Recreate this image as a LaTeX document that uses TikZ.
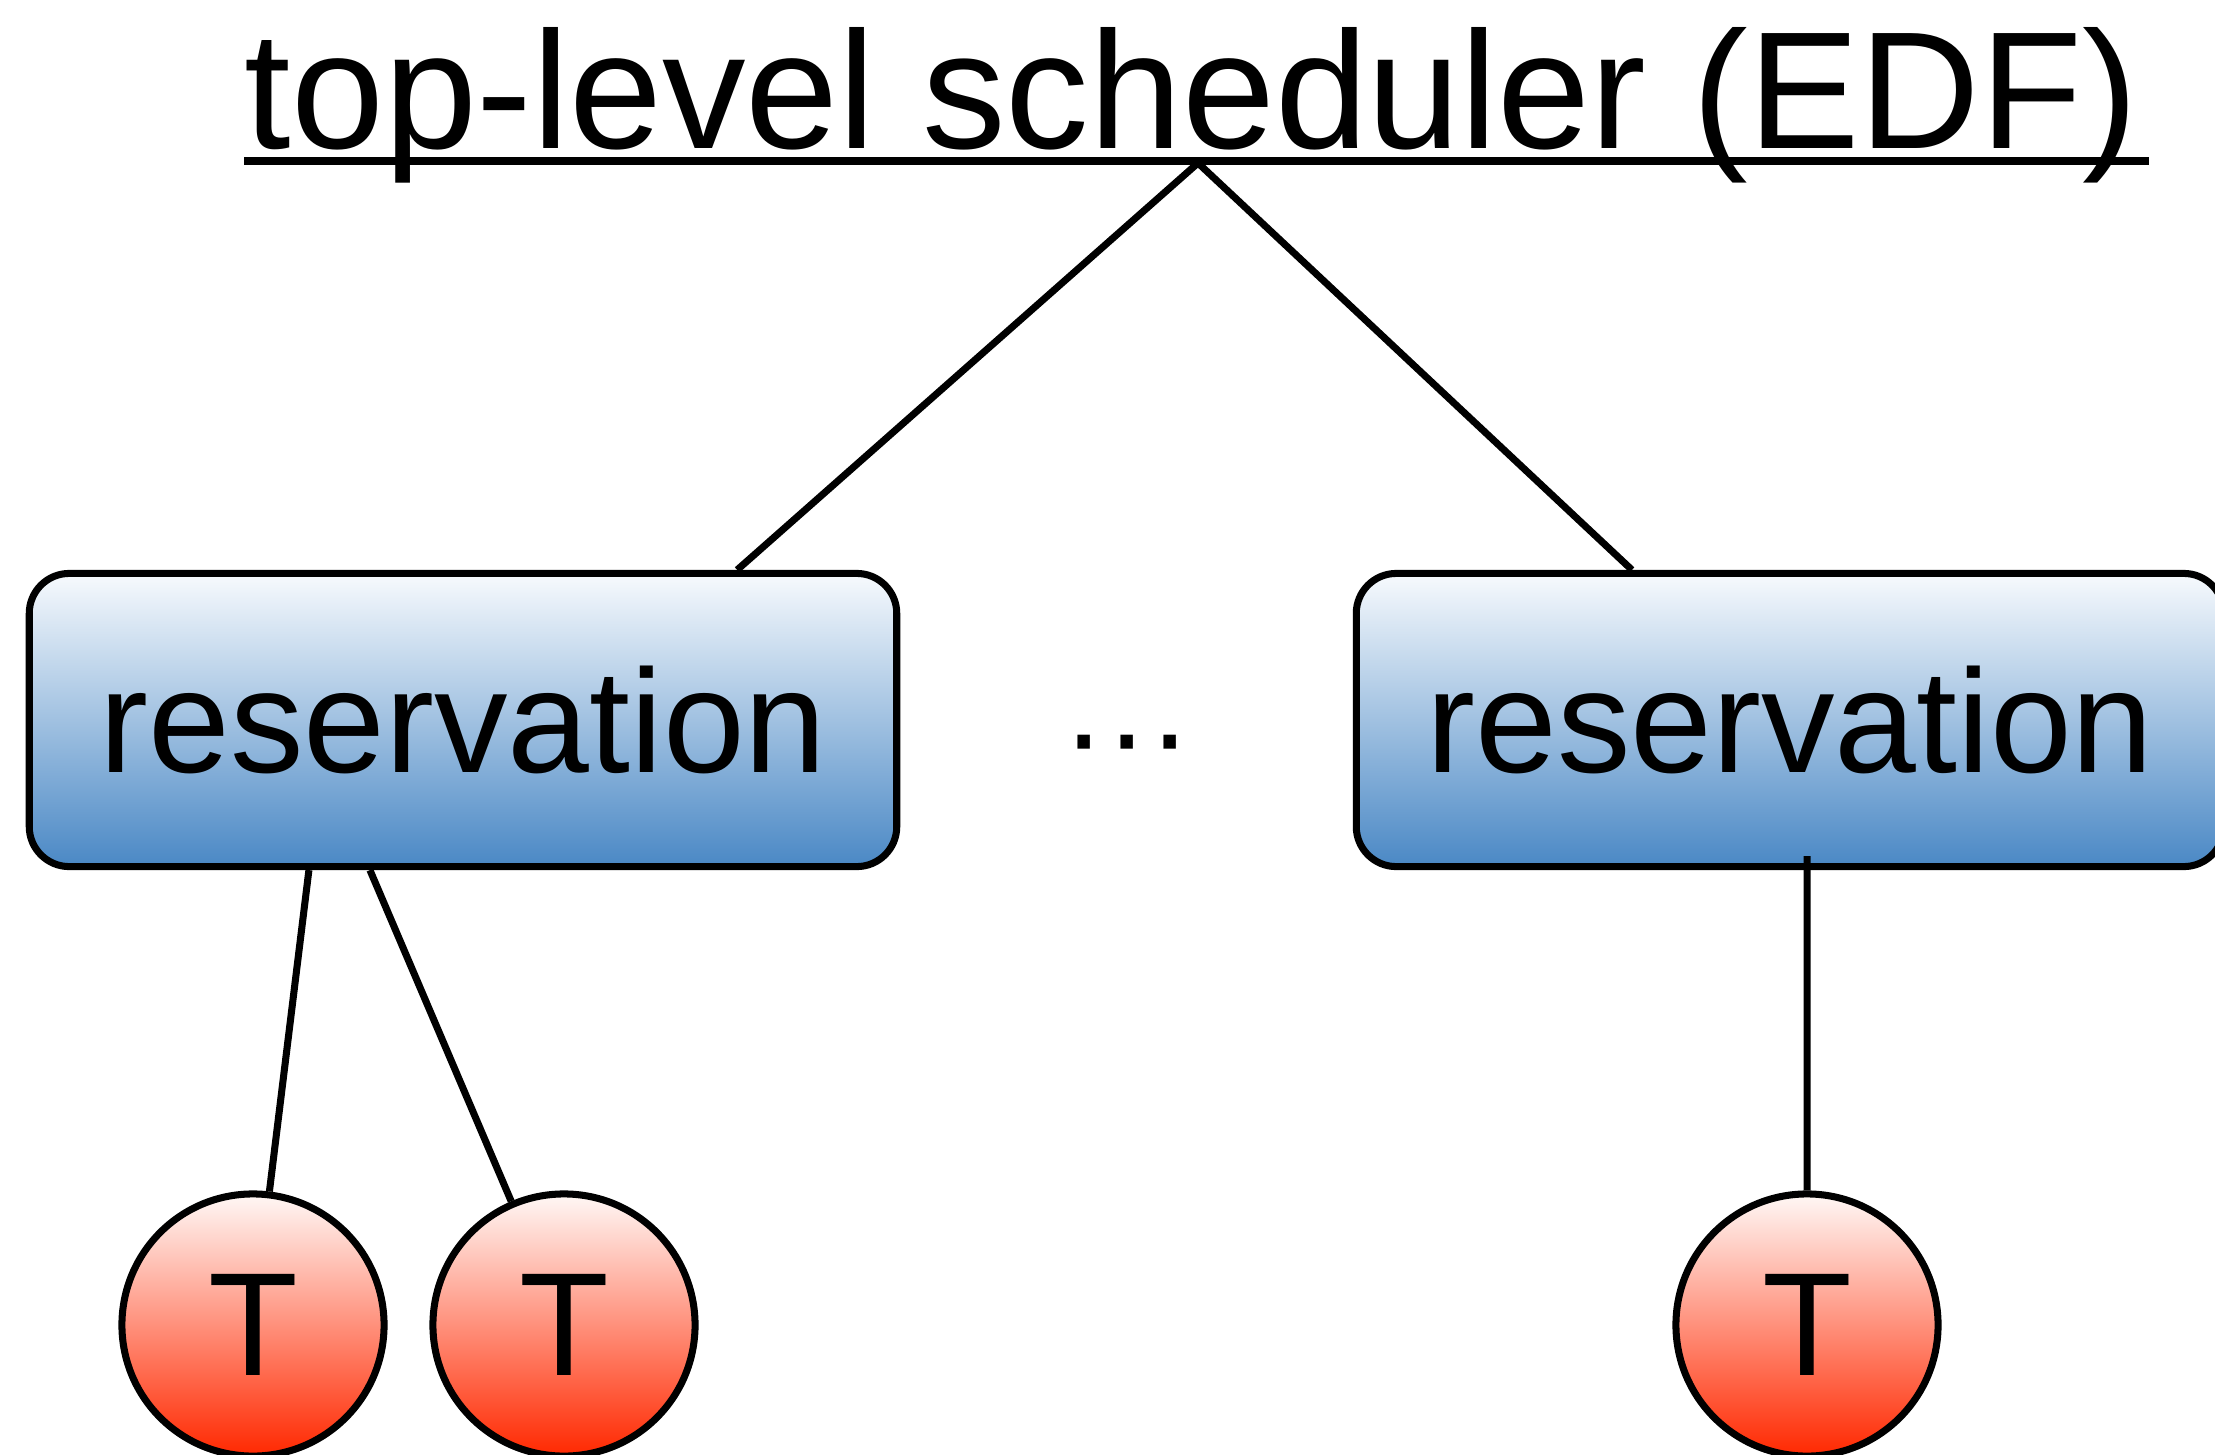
\documentclass[tikz,border=0pt]{standalone}
\usepackage{fontspec}
\setmainfont{Liberation Sans}
\definecolor{resTop}{HTML}{F7FAFD}
\definecolor{resBot}{HTML}{4A88C5}
\definecolor{taskTop}{HTML}{FFF8F6}
\definecolor{taskBot}{HTML}{FF2800}
\begin{document}
\begin{tikzpicture}[x=0.01cm, y=-0.01cm,
    title/.style={inner sep=0pt, anchor=base west, font=\fontsize{47.5}{57}\selectfont},
    res/.style={rectangle, rounded corners=0.4cm, draw=black, line width=2pt,
        top color=resTop, bottom color=resBot,
        minimum width=8.67cm, minimum height=2.93cm, inner sep=0pt,
        font=\fontsize{41.8}{50}\selectfont},
    task/.style={circle, draw=black, line width=2pt,
        top color=taskTop, bottom color=taskBot,
        minimum size=2.62cm, inner sep=0pt, font=\fontsize{41.8}{50}\selectfont},
    edge/.style={line width=2pt, -}
]
    \useasboundingbox (0,0) rectangle (2215,1454);
    \node[title] (title) at (244,148) {top-level scheduler (EDF)};
    \draw[line width=2.2pt] ([yshift=-0.13cm]title.base west) -- ([xshift=0.1cm, yshift=-0.13cm]title.base east);
    \coordinate (apex) at (1198,163);
    \node[res] (lres) at (463,720) {reservation};
    \node[res] (rres) at (1790,720) {reservation};
    \node[anchor=base, inner sep=0pt, font=\fontsize{37}{44}\selectfont] (dots) at (1127,777) {···};
    \node[task] (t1) at (253,1325) {T};
    \node[task] (t2) at (564,1325) {T};
    \node[task] (t3) at (1807,1325) {T};
    \draw[edge] (apex) -- ([xshift=2.74cm]lres.north);
    \draw[edge] (apex) -- ([xshift=-1.58cm]rres.north);
    \draw[edge] ([xshift=-1.54cm]lres.south) -- (t1);
    \draw[edge] ([xshift=-0.93cm]lres.south) -- (t2);
    \draw[edge] ([xshift=0.17cm, yshift=0.14cm]rres.south) -- (t3);
\end{tikzpicture}
\end{document}
